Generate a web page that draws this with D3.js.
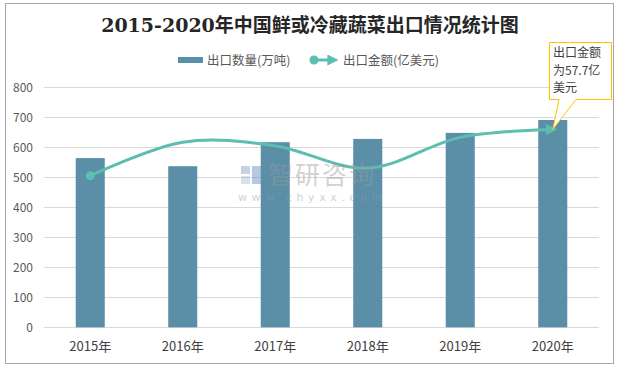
<!DOCTYPE html>
<html><head><meta charset="utf-8">
<script src="https://cdn.jsdelivr.net/npm/d3@7/dist/d3.min.js"></script>
<style>
html,body{margin:0;padding:0;background:#fff;}
svg{display:block;font-family:"Noto Sans CJK SC","Microsoft YaHei",sans-serif;}
</style></head>
<body>
<svg id="c" width="619" height="368"></svg>
<script>
const title = "2015-2020年中国鲜或冷藏蔬菜出口情况统计图";
const years = ["2015年","2016年","2017年","2018年","2019年","2020年"];
const quantity = [564, 537, 617, 628, 648, 691];      // 出口数量(万吨)
const amount = [44.2, 54.0, 52.9, 46.4, 55.4, 57.7];  // 出口金额(亿美元)
const yTicks = [0,100,200,300,400,500,600,700,800];
const seriesNames = ["出口数量(万吨)", "出口金额(亿美元)"];
const calloutLines = ["出口金额", "为57.7亿", "美元"];

const barColor = "#5B8FA8", lineColor = "#5CBDB1";
const svg = d3.select("#c");

// frame
svg.append("rect").attr("x",5.5).attr("y",3.5).attr("width",608).attr("height",360)
  .attr("fill","#fff").attr("stroke","#A6A6A6").attr("stroke-width",1);

const x = d3.scaleBand().domain(years).range([44,599]).paddingInner(0.686).paddingOuter(0.343);
const y = d3.scaleLinear().domain([0,800]).range([327.3,87.3]);
const y2 = d3.scaleLinear().domain([0,70]).range([327.3,87.3]);

// gridlines
svg.append("g").selectAll("line").data(yTicks).join("line")
  .attr("x1",44).attr("x2",599)
  .attr("y1",d=>Math.round(y(d))+0.5).attr("y2",d=>Math.round(y(d))+0.5)
  .attr("stroke","#D9D9D9").attr("stroke-width",1);

// y axis
const ya = svg.append("g").attr("transform","translate(44,0)")
  .call(d3.axisLeft(y).tickValues(yTicks).tickSize(0).tickPadding(11));
ya.select(".domain").remove();
ya.selectAll("text").attr("font-size",12).attr("fill","#595959")
  .attr("font-family","'Noto Sans CJK SC',sans-serif");

// x axis
const xa = svg.append("g").attr("transform","translate(0,327.3)")
  .call(d3.axisBottom(x).tickSize(0).tickPadding(14));
xa.select(".domain").remove();
xa.selectAll("text").attr("font-size",13).attr("fill","#404040")
  .attr("font-family","'Noto Sans CJK SC',sans-serif");

// bars
svg.append("g").selectAll("rect").data(quantity).join("rect")
  .attr("x",(d,i)=>x(years[i])).attr("width",x.bandwidth())
  .attr("y",d=>y(d)).attr("height",d=>y(0)-y(d))
  .attr("fill",barColor);

// arrow marker
const defs = svg.append("defs");
defs.append("marker").attr("id","arr").attr("markerUnits","userSpaceOnUse")
  .attr("viewBox","0 0 10 10").attr("refX",6).attr("refY",5)
  .attr("markerWidth",11).attr("markerHeight",11).attr("orient","auto")
  .append("path").attr("d","M0,0 L10,5 L0,10 Z").attr("fill",lineColor);

// line
const pts = amount.map((v,i)=>[x(years[i])+x.bandwidth()/2, y2(v)]);
const line = d3.line().curve(d3.curveCardinal.tension(0));
svg.append("path").attr("d",line(pts)).attr("fill","none")
  .attr("stroke",lineColor).attr("stroke-width",3).attr("marker-end","url(#arr)");
svg.append("circle").attr("cx",pts[0][0]).attr("cy",pts[0][1]).attr("r",4.5).attr("fill",lineColor);

// watermark
const wm = svg.append("g").attr("opacity",0.45);
wm.append("rect").attr("x",241).attr("y",166).attr("width",9).attr("height",8).attr("fill","#7F9CC8");
wm.append("rect").attr("x",241).attr("y",176).attr("width",9).attr("height",8).attr("fill","#A9BBD8");
wm.append("rect").attr("x",252).attr("y",166).attr("width",9).attr("height",18).attr("fill","#5B86C2");
wm.append("text").attr("x",268).attr("y",184).attr("font-size",25).attr("fill","#9A9A9A")
  .attr("letter-spacing",2).text("智研咨询");
wm.append("text").attr("x",238).attr("y",201).attr("font-size",11).attr("fill","#9A9A9A")
  .attr("letter-spacing",4.6).attr("font-family","'DejaVu Sans',sans-serif").text("www.chyxx.com");

// title
svg.append("text").attr("x",310).attr("y",32).attr("text-anchor","middle")
  .attr("font-size",19).attr("font-weight","bold").attr("fill","#262626")
  .attr("font-family","'DejaVu Serif','Noto Sans CJK SC',serif").text(title);

// legend
const lg = svg.append("g");
lg.append("rect").attr("x",178).attr("y",57).attr("width",25).attr("height",6).attr("fill",barColor);
lg.append("text").attr("x",207).attr("y",64.5).attr("font-size",12.5).attr("fill","#595959").text(seriesNames[0]);
lg.append("line").attr("x1",314).attr("x2",334).attr("y1",60).attr("y2",60)
  .attr("stroke",lineColor).attr("stroke-width",3).attr("marker-end","url(#arr)");
lg.append("circle").attr("cx",314).attr("cy",60).attr("r",4.5).attr("fill",lineColor);
lg.append("text").attr("x",343).attr("y",64.5).attr("font-size",12.5).attr("fill","#595959").text(seriesNames[1]);

// callout
const last = pts[pts.length-1];
svg.append("path")
  .attr("d",`M549.5,42.5 H611.5 V99.5 H576 L${last[0]},${last[1]} L559,99.5 H549.5 Z`)
  .attr("fill","#fff").attr("stroke","#FFC000").attr("stroke-width",1);
svg.append("g").selectAll("text").data(calloutLines).join("text")
  .attr("x",553).attr("y",(d,i)=>57+i*17.5).attr("font-size",12).attr("fill","#404040")
  .text(d=>d);
</script>
</body></html>
